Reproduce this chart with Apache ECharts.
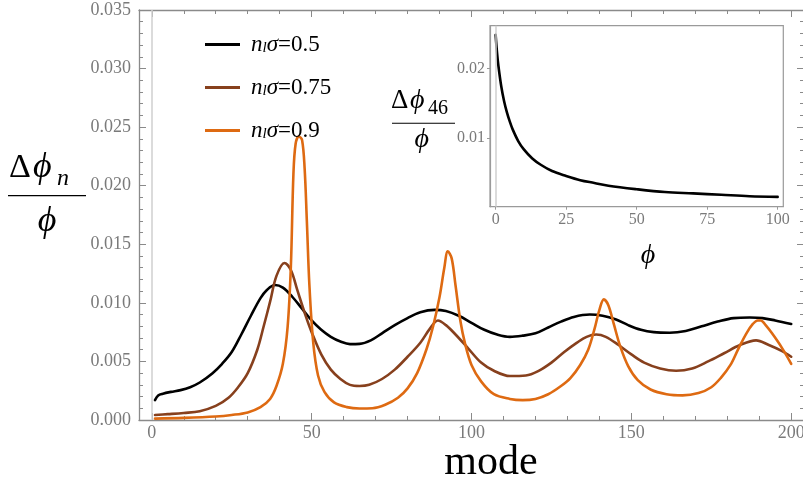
<!DOCTYPE html>
<html>
<head>
<meta charset="utf-8">
<script src="https://cdn.jsdelivr.net/npm/echarts@6/dist/echarts.min.js"></script>
<style>html,body{margin:0;padding:0;background:#fff}#c{width:803px;height:487px}</style>
</head>
<body>
<div id="c"></div>
<script>
// ---- data ----
const seriesNames = ['nlσ=0.5', 'nlσ=0.75', 'nlσ=0.9'];
const modeB = [1,2,3.5,6,9,12,15,19,22,25,28,31,34,36,38.5,41,44,47,50,53,56,59,62,65,68.5,72,76,80,84,88.5,92,96,100,104,108,112,116,120,124,128,132,137,141,145,149,153,157,162,167,172,177,182,187,191,195,200];
const valB = [0.0017,0.0021,0.00225,0.0024,0.00255,0.0028,0.0032,0.0040,0.0048,0.0058,0.0073,0.0089,0.0104,0.0111,0.01152,0.0113,0.0105,0.0095,0.0085,0.0077,0.0071,0.0067,0.00648,0.0065,0.0068,0.0074,0.0081,0.0087,0.0092,0.0094,0.0093,0.0089,0.0083,0.0077,0.0073,0.0071,0.0072,0.0074,0.0079,0.0084,0.0088,0.0090,0.0089,0.0086,0.0081,0.0077,0.0075,0.00745,0.0076,0.0080,0.0084,0.0087,0.00875,0.0087,0.0085,0.0082];
const modeM = [1,5,10,15,20,24,27,30,33,35,37,39,41.5,43.5,45.5,48,50,53,56,59,62,65,68,72,76,80,84,87,89.5,92,95,99,103,107,112,117,121,125,129,133,136,139,142,146,150,154,159,164,169,174,179,184,189,193,197,200];
const valM = [0.00043,0.0005,0.0006,0.00075,0.0012,0.0019,0.0028,0.0040,0.0060,0.0080,0.0101,0.0123,0.0134,0.0128,0.0111,0.0090,0.0075,0.0056,0.0043,0.0035,0.0030,0.0029,0.0030,0.0035,0.0043,0.0054,0.0066,0.0078,0.0085,0.0081,0.0073,0.0061,0.0049,0.0042,0.00375,0.0038,0.0042,0.0049,0.0058,0.0066,0.0071,0.0073,0.0071,0.0064,0.0056,0.0049,0.0044,0.0042,0.0044,0.0050,0.0057,0.0064,0.0068,0.0064,0.0059,0.0054];
const modeO = [1,10,20,25,30,34,37,39,41,42.5,43.5,44.3,45,46,47,47.8,48.5,49.3,50.5,52,54,57,61,65,69,73,77,80,83,86,88,90,91.5,92.6,93.8,95,96.5,98,100,103,107,112,116,120,124,128,131,134,136.5,138.5,140,141.4,142.8,144.5,146.5,149,152,156,161,166,171,175,178,181,183.5,186,188,189.5,190.5,192,194,197,200];
const valO = [0.00012,0.00018,0.0003,0.00043,0.00065,0.0011,0.0018,0.0029,0.0048,0.0080,0.0131,0.0210,0.0236,0.0242,0.0239,0.0215,0.0170,0.0115,0.0066,0.0038,0.0024,0.0015,0.0011,0.00098,0.0010,0.0013,0.0019,0.0027,0.0040,0.0061,0.0080,0.0105,0.0130,0.0144,0.0138,0.0115,0.0085,0.0065,0.0047,0.0033,0.0022,0.0018,0.0017,0.0018,0.0022,0.0029,0.0036,0.0047,0.0060,0.0078,0.0094,0.0103,0.0098,0.0082,0.0063,0.0046,0.0034,0.0026,0.0022,0.0021,0.0023,0.0028,0.0036,0.0047,0.0061,0.0074,0.0082,0.0085,0.0085,0.0081,0.0074,0.0062,0.0048];
const phiInset = [0,0.5,1,2,3,4,5,6,8,10,13,16,20,25,30,35,40,50,60,70,80,90,100];
const valInset = [0.0248,0.0222,0.0203,0.0174,0.0153,0.0137,0.0124,0.0113,0.0096,0.0084,0.0071,0.0062,0.0053,0.0046,0.0040,0.0036,0.0032,0.0027,0.0023,0.0021,0.0019,0.0017,0.0016];
const xMajorTicks = [0,50,100,150,200];
const xMinorTicks = [10,20,30,40,60,70,80,90,110,120,130,140,160,170,180,190];
const insetXTicks = [0,25,50,75,100];
const insetYTicks = [0.01,0.02];
// ---- end data ----

const colors = ['#000000', '#87401d', '#de6a12'];
const SERIF = '"Liberation Serif", "Times New Roman", serif';
const GRAY = '#8a8a8a';
const LBL = '#7a7a7a';
const pairs = (xs, ys) => xs.map((x, i) => [x, ys[i]]);

const chart = echarts.init(document.getElementById('c'), null, {renderer: 'canvas'});

function xAx(o) {
  return Object.assign({
    type: 'value', gridIndex: 0, min: -4, max: 204, position: 'bottom',
    axisLine: {show: false, onZero: false, lineStyle: {color: GRAY, width: 1.3}},
    axisTick: {show: true, inside: true, length: 7, lineStyle: {color: GRAY, width: 1}},
    axisLabel: {show: false},
    splitLine: {show: false}
  }, o);
}
function yAx(o) {
  return Object.assign({
    type: 'value', gridIndex: 0, min: 0, max: 0.035, interval: 0.005, position: 'left',
    axisLine: {show: true, onZero: false, lineStyle: {color: GRAY, width: 1.3}},
    axisTick: {show: true, inside: true, length: 7, lineStyle: {color: GRAY, width: 1}},
    minorTick: {show: true, splitNumber: 5, length: 4, lineStyle: {color: GRAY, width: 1}},
    axisLabel: {show: false},
    splitLine: {show: false},
    minorSplitLine: {show: false}
  }, o);
}

function lineSeries(name, xs, ys, color, xi, yi) {
  return {name: name, type: 'line', xAxisIndex: xi, yAxisIndex: yi, data: pairs(xs, ys),
          showSymbol: false, symbol: 'none', smooth: 0.35,
          lineStyle: {color: color, width: 2.6, cap: 'round', join: 'round'}, itemStyle: {color: color}};
}

const zeroLine = {silent: true, symbol: 'none', label: {show: false},
                  lineStyle: {color: '#cfcfcf', width: 1.5, type: 'solid'}, data: [{xAxis: 0}]};

const sB = lineSeries(seriesNames[0], modeB, valB, colors[0], 0, 0); sB.markLine = zeroLine;
const sM = lineSeries(seriesNames[1], modeM, valM, colors[1], 0, 0);
const sO = lineSeries(seriesNames[2], modeO, valO, colors[2], 0, 0);
const sI = lineSeries('inset', phiInset, valInset, '#000', 4, 2); sI.markLine = zeroLine;

const option = {
  animation: false,
  backgroundColor: '#ffffff',
  grid: [
    {left: 139, right: -1, top: 10, bottom: 67, containLabel: false, outerBoundsMode: 'none'},
    {left: 490, right: 19.7, top: 25.7, bottom: 280.3, containLabel: false, outerBoundsMode: 'none',
     show: true, borderColor: '#9a9a9a', borderWidth: 1.2, backgroundColor: '#ffffff'}
  ],
  xAxis: [
    xAx({axisLine: {show: true, onZero: false, lineStyle: {color: GRAY, width: 1.3}},
         axisTick: {show: true, inside: true, length: 7, customValues: xMajorTicks, lineStyle: {color: GRAY}},
         axisLabel: {show: true, customValues: xMajorTicks, color: LBL, fontFamily: SERIF, fontSize: 18, margin: 4}}),
    xAx({axisTick: {show: true, inside: true, length: 4, customValues: xMinorTicks, lineStyle: {color: GRAY}}}),
    xAx({position: 'top', axisLine: {show: true, onZero: false, lineStyle: {color: GRAY, width: 1.3}},
         axisTick: {show: true, inside: true, length: 7, customValues: xMajorTicks, lineStyle: {color: GRAY}}}),
    xAx({position: 'top', axisTick: {show: true, inside: true, length: 4, customValues: xMinorTicks, lineStyle: {color: GRAY}}}),
    {type: 'value', gridIndex: 1, min: -2, max: 102, position: 'bottom',
     axisLine: {show: true, onZero: false, lineStyle: {color: '#9a9a9a', width: 1.2}},
     axisTick: {show: true, inside: false, length: 3, customValues: insetXTicks, lineStyle: {color: '#9a9a9a'}},
     axisLabel: {show: true, customValues: insetXTicks, color: LBL, fontFamily: SERIF, fontSize: 16, margin: 5},
     splitLine: {show: false}}
  ],
  yAxis: [
    yAx({axisLabel: {show: true, color: LBL, fontFamily: SERIF, fontSize: 18, margin: 8,
                     formatter: v => v.toFixed(3)}}),
    yAx({position: 'right'}),
    {type: 'value', gridIndex: 1, min: 0.0002, max: 0.0261, position: 'left',
     axisLine: {show: true, onZero: false, lineStyle: {color: '#9a9a9a', width: 1.2}},
     axisTick: {show: true, inside: false, length: 3, customValues: insetYTicks, lineStyle: {color: '#9a9a9a'}},
     axisLabel: {show: true, customValues: insetYTicks, color: LBL, fontFamily: SERIF, fontSize: 16, margin: 5,
                 formatter: v => v.toFixed(2)},
     splitLine: {show: false}}
  ],
  legend: {
    show: true, orient: 'vertical', left: 200, top: 28,
    icon: 'rect', itemWidth: 35, itemHeight: 3, itemGap: 20,
    data: seriesNames,
    formatter: name => '{i|n}{s|l}{i|σ}{r|=' + name.split('=')[1] + '}',
    textStyle: {
      padding: [0, 0, 0, 6],
      rich: {
        i: {fontFamily: SERIF, fontStyle: 'italic', fontSize: 23, lineHeight: 22, color: '#000'},
        s: {fontFamily: SERIF, fontStyle: 'italic', fontSize: 15, lineHeight: 8, verticalAlign: 'bottom', color: '#000'},
        r: {fontFamily: SERIF, fontSize: 23, lineHeight: 22, color: '#000'}
      }
    }
  },
  series: [sB, sM, sO, sI],
  graphic: [
    // main y-axis title: Δϕ_n / ϕ
    {type: 'text', style: {text: 'Δ', x: 9, y: 168, fill: '#000', font: '34px ' + SERIF, align: 'left', verticalAlign: 'middle'}},
    {type: 'text', style: {text: 'ϕ', x: 33, y: 168, fill: '#000', font: 'italic 36px ' + SERIF, align: 'left', verticalAlign: 'middle'}},
    {type: 'text', style: {text: 'n', x: 57, y: 179, fill: '#000', font: 'italic 24px ' + SERIF, align: 'left', verticalAlign: 'middle'}},
    {type: 'line', shape: {x1: 8, y1: 195.7, x2: 86, y2: 195.7}, style: {stroke: '#000', lineWidth: 1.3}},
    {type: 'text', style: {text: 'ϕ', x: 47, y: 222, fill: '#000', font: 'italic 36px ' + SERIF, align: 'center', verticalAlign: 'middle'}},
    // main x-axis title
    {type: 'text', style: {text: 'mode', x: 491, y: 463, fill: '#000', font: '42px ' + SERIF, align: 'center', verticalAlign: 'middle'}},
    // inset y title: Δϕ_46 / ϕ
    {type: 'text', style: {text: 'Δ', x: 391, y: 101, fill: '#000', font: '27px ' + SERIF, align: 'left', verticalAlign: 'middle'}},
    {type: 'text', style: {text: 'ϕ', x: 410, y: 101, fill: '#000', font: 'italic 28px ' + SERIF, align: 'left', verticalAlign: 'middle'}},
    {type: 'text', style: {text: '46', x: 428, y: 109, fill: '#000', font: '20px ' + SERIF, align: 'left', verticalAlign: 'middle'}},
    {type: 'line', shape: {x1: 392, y1: 123.3, x2: 455, y2: 123.3}, style: {stroke: '#000', lineWidth: 1.1}},
    {type: 'text', style: {text: 'ϕ', x: 421.7, y: 140, fill: '#000', font: 'italic 28px ' + SERIF, align: 'center', verticalAlign: 'middle'}},
    // inset x title
    {type: 'text', style: {text: 'ϕ', x: 648, y: 256, fill: '#000', font: 'italic 28px ' + SERIF, align: 'center', verticalAlign: 'middle'}}
  ]
};
chart.setOption(option);
</script>
</body>
</html>
